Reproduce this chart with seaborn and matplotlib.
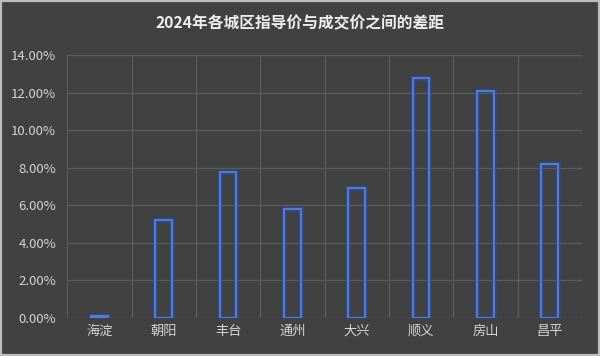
import matplotlib
matplotlib.use("Agg")
import matplotlib.pyplot as plt
import matplotlib.patheffects as pe
from matplotlib.patches import Rectangle
from matplotlib.ticker import FuncFormatter, FixedLocator
import seaborn as sns
import pandas as pd

districts = ["海淀", "朝阳", "丰台", "通州", "大兴", "顺义", "房山", "昌平"]
gap = [0.001, 0.052, 0.078, 0.058, 0.069, 0.128, 0.121, 0.082]
title = "2024年各城区指导价与成交价之间的差距"

df = pd.DataFrame({"district": districts, "gap": gap})

sns.set_theme(style="dark")
plt.rcParams['font.family'] = ['Noto Sans CJK SC', 'DejaVu Sans']

bg = "#414141"
fig = plt.figure(figsize=(6, 3.56), dpi=100, facecolor=bg)
ax = fig.add_axes([0.112, 0.107, 0.858, 0.738])
ax.set_facecolor(bg)

sns.barplot(data=df, x="district", y="gap", ax=ax, width=0.26,
            fill=False, color="#3f72e0", linewidth=1.5, zorder=3)
for p in ax.patches:
    p.set_edgecolor("#4a7be8")
    p.set_path_effects([pe.Stroke(linewidth=3.8, foreground="#2c4f9c", alpha=0.5), pe.Normal()])

ax.set_ylim(0, 0.14)
ax.set_xlim(-0.5, len(districts) - 0.5)
ax.set_yticks([i * 0.02 for i in range(8)])
ax.yaxis.set_major_formatter(FuncFormatter(lambda v, _: f"{v*100:.2f}%"))
ax.xaxis.set_minor_locator(FixedLocator([i - 0.5 for i in range(len(districts) + 1)]))
ax.grid(True, axis="y", which="major", color="#5c5c5c", linewidth=0.9, zorder=0)
ax.grid(True, axis="x", which="minor", color="#5c5c5c", linewidth=0.9, zorder=0)
ax.grid(False, axis="x", which="major")
for s in ax.spines.values():
    s.set_visible(False)
ax.tick_params(axis="both", which="both", length=0, colors="#d4d4d4", labelsize=9.5)
ax.tick_params(axis="x", pad=5)
ax.tick_params(axis="y", pad=8)
ax.set_xlabel("")
ax.set_ylabel("")

fig.text(0.5, 0.935, title, ha="center", va="center", color="#eeeeee",
         fontsize=11.3, fontweight="bold")
fig.patches.append(Rectangle((0, 0), 1, 1, transform=fig.transFigure, fill=False,
                             edgecolor="#bdbdbd", linewidth=3, zorder=10))

fig.savefig("out.png", dpi=100, facecolor=bg)
